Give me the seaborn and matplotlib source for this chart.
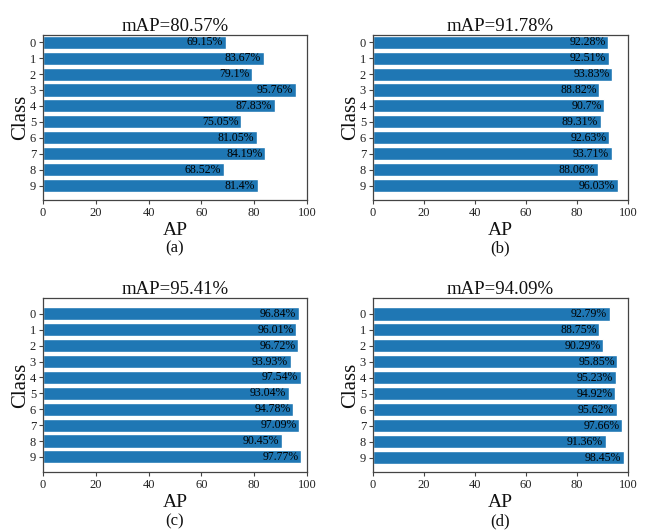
import matplotlib
matplotlib.use("Agg")
import matplotlib.pyplot as plt
import seaborn as sns
import pandas as pd

sns.set_theme(style="white")
plt.rcParams['font.family'] = ['Liberation Serif', 'DejaVu Serif']

classes = ["0", "1", "2", "3", "4", "5", "6", "7", "8", "9"]
ap_a = [69.15, 83.67, 79.1, 95.76, 87.83, 75.05, 81.05, 84.19, 68.52, 81.4]
ap_b = [92.28, 92.51, 93.83, 88.82, 90.7, 89.31, 92.63, 93.71, 88.06, 96.03]
ap_c = [96.84, 96.01, 96.72, 93.93, 97.54, 93.04, 94.78, 97.09, 90.45, 97.77]
ap_d = [92.79, 88.75, 90.29, 95.85, 95.23, 94.92, 95.62, 97.66, 91.36, 98.45]
map_titles = ["mAP=80.57%", "mAP=91.78%", "mAP=95.41%", "mAP=94.09%"]
captions = ["(a)", "(b)", "(c)", "(d)"]
xticks = [0, 20, 40, 60, 80, 100]

W, H = 645, 530
fig = plt.figure(figsize=(W / 100, H / 100), dpi=100)

# panel boxes in pixels: left, right, top, bottom ; ylim
panels = [
    (43, 307, 35, 200, (9.9, -0.45)),
    (373, 628, 35, 200, (9.9, -0.45)),
    (43, 307, 298, 472, (9.95, -1.0)),
    (373, 628, 298, 472, (9.9, -1.0)),
]
all_vals = [ap_a, ap_b, ap_c, ap_d]
spine_col = "#444444"
text_col = "#111111"

for (l, r, t, b, yl), vals, title, cap in zip(panels, all_vals, map_titles, captions):
    ax = fig.add_axes([l / W, 1 - b / H, (r - l) / W, (b - t) / H])
    df = pd.DataFrame({"Class": classes, "AP": vals})
    sns.barplot(data=df, x="AP", y="Class", order=classes, orient="h",
                color="#1f77b4", saturation=1, edgecolor="white",
                linewidth=1.0, width=0.82, ax=ax)
    anns = ax.bar_label(ax.containers[0], labels=[f"{v:g}%" for v in vals],
                        padding=-2, fontsize=8.5, color="#000000")
    for a in anns:
        a.set_ha("right")
    ax.set_xlim(0, 100)
    ax.set_ylim(*yl)
    ax.set_xticks(xticks)
    ax.set_xticklabels([str(x) for x in xticks])
    ax.tick_params(axis="both", which="both", length=3, width=0.8,
                   color=spine_col, labelcolor="#222222", labelsize=9, pad=2,
                   left=True, bottom=True)
    for s in ax.spines.values():
        s.set_color(spine_col)
        s.set_linewidth(0.9)
    ax.set_title(title, fontsize=13.5, color=text_col, pad=2)
    ax.set_xlabel("AP", fontsize=14, color=text_col, labelpad=2)
    ax.set_ylabel("Class", fontsize=15, color=text_col, labelpad=0)
    cy = 248 if t < 100 else 521
    fig.text((l + r) / 2 / W, 1 - cy / H, cap, ha="center", va="center",
             fontsize=12, color=text_col)

fig.savefig("out.png", dpi=100)
